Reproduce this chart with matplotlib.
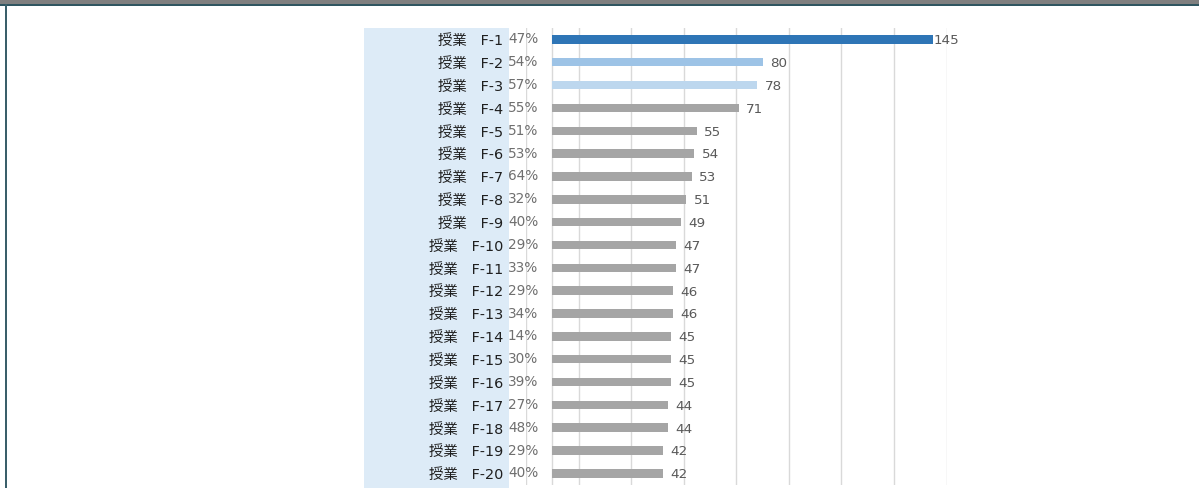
import matplotlib
matplotlib.use("Agg")
import matplotlib.pyplot as plt
from matplotlib.patches import Rectangle
import matplotlib.transforms as mtransforms

categories = ["授業   F-%d" % i for i in range(1, 21)]
percent_labels = ["47%", "54%", "57%", "55%", "51%", "53%", "64%", "32%", "40%", "29%",
                  "33%", "29%", "34%", "14%", "30%", "39%", "27%", "48%", "29%", "40%"]
values = [145, 80, 78, 71, 55, 54, 53, 51, 49, 47, 47, 46, 46, 45, 45, 45, 44, 44, 42, 42]
bar_colors = ["#2E75B6", "#9DC3E6", "#BDD7EE"] + ["#A5A5A5"] * 17
x_ticks = [-10, 10, 30, 50, 70, 90, 110, 130, 150]

W, H = 1199, 488
fig = plt.figure(figsize=(W / 100, H / 100), dpi=100)
fig.patch.set_facecolor("white")

def fx(px):
    return px / W

def fy(py):
    return 1 - py / H

# frame decorations
fig.add_artist(Rectangle((0, fy(4)), 1, 4 / H, transform=fig.transFigure,
                         facecolor="#7F7F7F", edgecolor="none", zorder=0))
fig.add_artist(Rectangle((0, fy(5.5)), 1, 1.5 / H, transform=fig.transFigure,
                         facecolor="#2F5560", edgecolor="none", zorder=0))
fig.add_artist(Rectangle((fx(5), 0), 1.8 / W, fy(4), transform=fig.transFigure,
                         facecolor="#3A5F6A", edgecolor="none", zorder=0))

# light blue label band
fig.add_artist(Rectangle((fx(364), 0), (509 - 364) / W, fy(28), transform=fig.transFigure,
                         facecolor="#DDEBF7", edgecolor="none", zorder=0))

top, bottom = 28, 484.8
ax = fig.add_axes([fx(526), fy(bottom), (946.5 - 526) / W, (bottom - top) / H])
ax.set_facecolor("none")
ax.set_xlim(-10, 150)
ax.set_ylim(len(values) - 0.5, -0.5)
ys = list(range(len(values)))

for x in x_ticks:
    ax.axvline(x, color="#D9D9D9", lw=1, zorder=0)
ax.axvline(0, color="#D9D9D9", lw=1, zorder=0)

ax.barh(ys, values, height=0.37, color=bar_colors, zorder=2)

for i, v in enumerate(values):
    off = 0 if i == 0 else 2.8
    ax.text(v + off, i + 0.06, str(v), ha="left", va="center", fontsize=9.7,
            color="#595959", family="DejaVu Sans", zorder=3)

for s in ax.spines.values():
    s.set_visible(False)
ax.set_xticks([])
ax.set_yticks([])

trans = mtransforms.blended_transform_factory(fig.transFigure, ax.transData)
for i, (c, p) in enumerate(zip(categories, percent_labels)):
    fig.text(fx(503), i + 0.08, c, transform=trans, ha="right", va="center",
             fontsize=10.4, color="#1F1F1F",
             family=["DejaVu Sans", "Noto Sans CJK JP"])
    fig.text(fx(508), i + 0.0, p, transform=trans, ha="left", va="center",
             fontsize=9.8, color="#6F6F6F", family="DejaVu Sans")

fig.savefig("out.png", dpi=100, facecolor="white")
